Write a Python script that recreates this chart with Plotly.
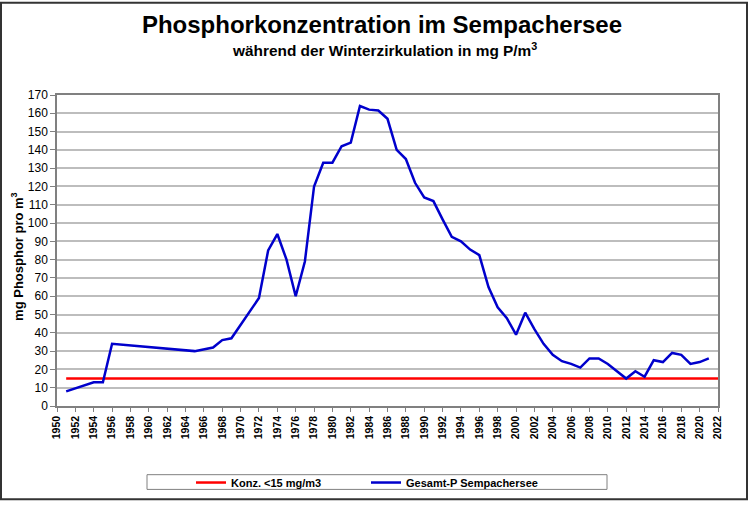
import plotly.graph_objects as go

# ---- data ----
years = [1951, 1954, 1955, 1956, 1965, 1967, 1968, 1969, 1972, 1973, 1974, 1975, 1976,
         1977, 1978, 1979, 1980, 1981, 1982, 1983, 1984, 1985, 1986, 1987, 1988, 1989,
         1990, 1991, 1992, 1993, 1994, 1995, 1996, 1997, 1998, 1999, 2000, 2001, 2002,
         2003, 2004, 2005, 2006, 2007, 2008, 2009, 2010, 2011, 2012, 2013, 2014, 2015,
         2016, 2017, 2018, 2019, 2020, 2021]
phosphor = [8, 13, 13, 34, 30, 32, 36, 37, 59, 85, 94, 80, 60,
            79, 120, 133, 133, 142, 144, 164, 162, 161.5, 157, 140, 135, 122,
            114, 112, 102, 92.5, 90, 85.5, 82.5, 65, 54, 48, 39, 51, 42,
            34, 28, 24.5, 23, 21, 26, 26, 23, 19, 15, 19, 16, 25,
            24, 29, 28, 23, 24, 26]
limit_years = [1951, 2022]
limit_values = [15, 15]

title_text = "Phosphorkonzentration im Sempachersee"
subtitle_text = "während der Winterzirkulation in mg P/m<sup>3</sup>"
ytitle = "mg Phosphor pro m<sup>3</sup>"
name_limit = "Konz. <15 mg/m3"
name_series = "Gesamt-P Sempachersee"

FONT = "Arial, Liberation Sans, sans-serif"

W, H = 749, 509
L, R, T, B = 57, 31, 95, 97
pw, ph = W - L - R, H - T - B

def px_x(x):
    return (x - L) / pw

def px_y(y):
    return (H - B - y) / ph

fig = go.Figure()
fig.add_trace(go.Scatter(x=limit_years, y=limit_values, mode="lines", name=name_limit,
                         line=dict(color="#ff0000", width=2.5)))
fig.add_trace(go.Scatter(x=years, y=phosphor, mode="lines", name=name_series,
                         line=dict(color="#0000cc", width=2.5)))

fig.update_layout(
    width=W, height=H,
    margin=dict(l=L, r=R, t=T, b=B, pad=0),
    paper_bgcolor="white", plot_bgcolor="white",
    font=dict(family=FONT, color="black"),
    title=dict(text="<b>" + title_text + "</b>", x=382 / W, xanchor="center",
               y=1 - 25 / H, yanchor="middle", yref="container",
               font=dict(size=24, family=FONT, color="black")),
    showlegend=True,
    legend=dict(orientation="h", x=px_x(191), xanchor="left", y=px_y(490), yanchor="middle",
                font=dict(size=11, family=FONT, color="black", weight="bold"),
                bgcolor="rgba(0,0,0,0)", borderwidth=0, itemwidth=30,
                entrywidth=130, entrywidthmode="pixels", tracegroupgap=0),
    xaxis=dict(range=[1950, 2022], tick0=1950, dtick=2, tickangle=-90,
               showgrid=False, zeroline=False,
               showline=True, linecolor="#808080", linewidth=1.5, mirror=True,
               ticks="outside", ticklen=4, tickcolor="#808080", tickwidth=1,
               tickfont=dict(size=10.5, family=FONT, color="black", weight="bold")),
    yaxis=dict(range=[0, 170], tick0=0, dtick=10,
               showgrid=True, gridcolor="#bdbdbd", gridwidth=1.6, zeroline=False,
               showline=True, linecolor="#808080", linewidth=1.5, mirror=True,
               ticks="outside", ticklen=5, tickcolor="#808080", tickwidth=1,
               tickfont=dict(size=12, family=FONT, color="black")),
    annotations=[
        dict(text="<b>" + subtitle_text + "</b>", xref="paper", yref="paper",
             x=px_x(384), y=px_y(49), xanchor="center", yanchor="middle",
             showarrow=False, font=dict(size=15.4, family=FONT, color="black")),
        dict(text="<b>" + ytitle + "</b>", xref="paper", yref="paper",
             x=px_x(17), y=px_y(260), xanchor="center", yanchor="middle",
             textangle=-90, showarrow=False, font=dict(size=13, family=FONT, color="black")),
    ],
    shapes=[
        dict(type="rect", xref="paper", yref="paper",
             x0=px_x(147), x1=px_x(607), y0=px_y(497), y1=px_y(482),
             line=dict(color="#808080", width=1), fillcolor="rgba(0,0,0,0)", layer="below"),
        dict(type="rect", xref="paper", yref="paper",
             x0=px_x(1), x1=px_x(747), y0=px_y(507), y1=px_y(1),
             line=dict(color="#333333", width=2), fillcolor="rgba(0,0,0,0)", layer="below"),
    ],
)

fig.write_html("out.html")
